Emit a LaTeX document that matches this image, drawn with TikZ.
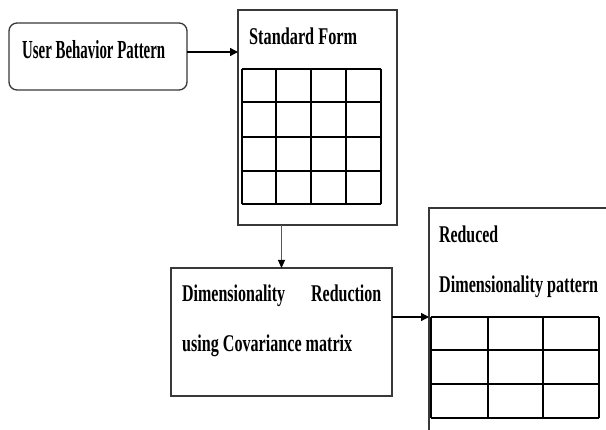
\documentclass[tikz,border=0pt]{standalone}
\usepackage{fontspec}
\usepackage{graphicx}
\setmainfont{Liberation Serif}
\usetikzlibrary{arrows.meta}
% set a line of text condensed to a given width, keeping its height
\newcommand\fitto[2]{\resizebox{#1}{\height}{#2}}

\begin{document}
\begin{tikzpicture}[x=1pt,y=-1pt,
  box/.style={draw=black!78, line width=1.3pt, inner sep=0pt, outer sep=0pt, fill=white},
  gridline/.style={black, line width=1.1pt},
  flow/.style={black, line width=1.3pt, -{Triangle[length=8pt,width=8pt]}},
  thinflow/.style={black!65, line width=1pt, -{Triangle[length=8pt,width=7pt,fill=black,color=black]}},
  label/.style={font=\bfseries\fontsize{24}{49.5}\selectfont, inner sep=0pt, anchor=base west},
]
\useasboundingbox (0,0) rectangle (606,430);
\clip (0,0) rectangle (606,430);
\fill[white] (0,0) rectangle (606,430);

% boxes
\node[box, rounded corners=8pt, minimum width=178pt, minimum height=67pt] (ubp) at (98,56.5) {};
\node[box, minimum width=159pt, minimum height=215pt] (std) at (317.5,117.5) {};
\node[box, minimum width=221pt, minimum height=128pt] (dim) at (281.5,332) {};
\node[box, minimum width=191pt, minimum height=237pt] (red) at (524.5,326.5) {};

% labels
\node[label, font=\bfseries\fontsize{26}{26}\selectfont] (ubptext) at (22,59)
  {\fitto{143pt}{User Behavior Pattern}};
\node[label] (stdtext) at (249,45) {\fitto{108pt}{Standard Form}};
\node[label, text width=199pt, align=flush left] (dimtext) at (182,302)
  {\fitto{103pt}{Dimensionality}\hspace{\fill}\fitto{70pt}{Reduction}\\
   \fitto{170pt}{using Covariance matrix}};
\node[label, text width=165pt, align=flush left] (redtext) at (439,243)
  {\fitto{59pt}{Reduced}\\\fitto{159pt}{Dimensionality pattern}};

% 4x4 table in the standard form box
\foreach \x in {242,276,311,346,381} \draw[gridline] (\x,69) -- (\x,204);
\foreach \y in {69,102,137,171,204} \draw[gridline] (242,\y) -- (381,\y);

% 3x3 table in the reduced pattern box
\foreach \x in {431,488,543,599} \draw[gridline] (\x,317) -- (\x,418);
\foreach \y in {317,350,384,418} \draw[gridline] (431,\y) -- (599,\y);

% connectors
\coordinate (a1) at ([yshift=4.5pt]ubp.east);
\draw[flow] (a1) -- (a1 -| std.west);
\draw[thinflow] (dim.north |- std.south) -- (dim.north);
\coordinate (a3) at ([yshift=15pt]dim.east);
\draw[flow] (a3) -- (a3 -| red.west);
\end{tikzpicture}
\end{document}
